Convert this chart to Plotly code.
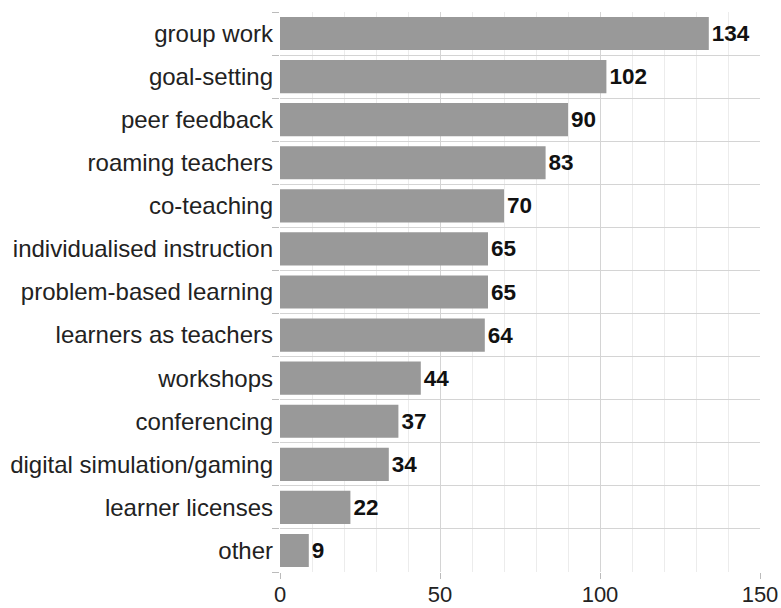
import plotly.graph_objects as go

categories = ["group work", "goal-setting", "peer feedback", "roaming teachers", "co-teaching",
              "individualised instruction", "problem-based learning", "learners as teachers",
              "workshops", "conferencing", "digital simulation/gaming", "learner licenses", "other"]
values = [134, 102, 90, 83, 70, 65, 65, 64, 44, 37, 34, 22, 9]
x_ticks = [0, 50, 100, 150]

fig = go.Figure(go.Bar(
    x=values, y=categories, orientation="h",
    marker=dict(color="#999999", line=dict(width=0)),
    text=[str(v) for v in values], textposition="outside",
    textfont=dict(family="Liberation Sans, Arial", size=22.5, color="#111111", weight="bold"),
    cliponaxis=False,
))

fig.update_layout(
    width=781, height=608,
    margin=dict(l=280, r=21, t=12, b=36),
    plot_bgcolor="white", paper_bgcolor="white",
    bargap=0.23, showlegend=False,
    font=dict(family="Liberation Sans, Arial", size=24, color="#222222"),
)
fig.update_xaxes(
    range=[0, 150], tickvals=x_ticks, showgrid=True, gridcolor="#d4d4d4", gridwidth=1,
    minor=dict(dtick=10, showgrid=True, gridcolor="#ececec", gridwidth=1),
    ticks="outside", ticklen=6, tickcolor="#bbbbbb", zeroline=False, showline=False,
    ticklabelstandoff=-3,
    tickfont=dict(size=22, color="#222222"), automargin=False,
)
fig.update_yaxes(
    categoryorder="array", categoryarray=categories[::-1], autorange=True,
    tickson="boundaries", showgrid=True, gridcolor="#d4d4d4", gridwidth=1,
    ticks="outside", ticklen=7, tickcolor="#bbbbbb", showline=False,
    ticklabelstandoff=6,
    tickfont=dict(size=24, color="#222222"), automargin=False,
)

fig.write_html(
    "out.html",
    config={"displayModeBar": False},
    post_script="document.body.style.margin='0';document.body.style.overflow='hidden';",
)
